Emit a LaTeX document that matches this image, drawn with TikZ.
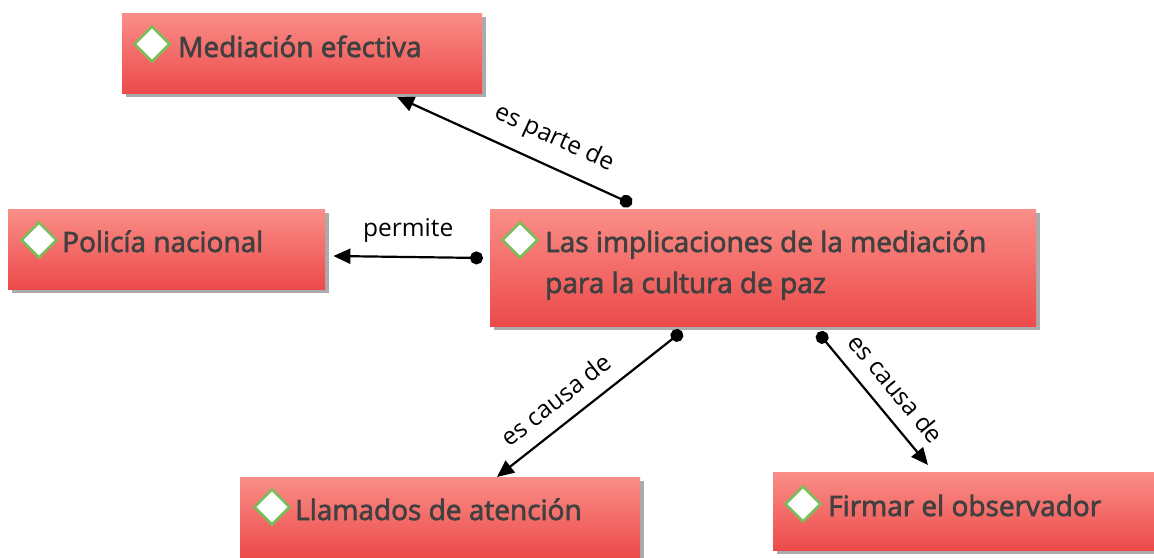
\documentclass[tikz,border=0pt]{standalone}
\usepackage{fontspec}
\setmainfont{Open Sans}
\newfontfamily\semib{Open Sans}[FakeBold=2.4]
\usetikzlibrary{shapes.geometric,shadows,arrows.meta,calc}
\definecolor{boxtop}{RGB}{250,142,136}
\definecolor{boxbot}{RGB}{236,74,74}
\definecolor{txtgray}{RGB}{64,64,64}
\definecolor{icongreen}{RGB}{122,190,90}
\tikzset{
  box/.style={rectangle, draw=none, inner sep=0pt, anchor=north west,
    top color=boxtop, bottom color=boxbot,
    drop shadow={shadow xshift=4pt, shadow yshift=-4pt, fill=black!60, opacity=0.55}},
  icon/.style={diamond, draw=icongreen, line width=2.5pt, fill=white, inner sep=0pt, minimum size=36pt},
  concept/.style={anchor=base west, inner sep=0pt, text=txtgray, align=left,
    font=\fontsize{28}{41}\selectfont\semib},
  link/.style={line width=2.2pt, black, {Circle[length=13pt]}-{Triangle[length=17pt,width=15pt]}},
  linklabel/.style={font=\fontsize{24.5}{28}\selectfont, text=black, inner sep=14pt}
}
\begin{document}
\begin{tikzpicture}[x=1pt,y=-1pt]
\useasboundingbox (0,0) rectangle (1154,557);
\fill[white] (0,0) rectangle (1154,557);
% boxes
\node[box, minimum width=360pt, minimum height=80pt] (b1) at (122,13) {};
\node[box, minimum width=317pt, minimum height=80pt] (b2) at (8,209) {};
\node[box, minimum width=546pt, minimum height=117pt] (b3) at (490,209) {};
\node[box, minimum width=400pt, minimum height=80pt] (b4) at (240,477) {};
\node[box, minimum width=381pt, minimum height=78pt] (b5) at (773,472) {};
% icons
\node[icon] (i1) at ($(b1.north west)+(30,31)$) {};
\node[icon] (i2) at ($(b2.north west)+(31,31)$) {};
\node[icon] (i3) at ($(b3.north west)+(30,31)$) {};
\node[icon] (i4) at ($(b4.north west)+(32,30)$) {};
\node[icon] (i5) at ($(b5.north west)+(30,32)$) {};
% texts
\node[concept] (t1) at ($(b1.north west)+(56,44)$) {Mediación efectiva};
\node[concept] (t2) at ($(b2.north west)+(54,43)$) {Policía nacional};
\node[concept] (t3) at ($(b3.north west)+(55,84)$) {Las implicaciones de la mediación\\para la cultura de paz};
\node[concept] (t4) at ($(b4.north west)+(55,43)$) {Llamados de atención};
\node[concept] (t5) at ($(b5.north west)+(55,44)$) {Firmar el observador};
% connector ends
\coordinate (d1) at ($(b3.north west)+(142,-5)$);
\coordinate (e1) at ($(b1.north west)+(275,84)$);
\coordinate (d2) at ($(b3.north west)+(-7,49)$);
\coordinate (e2) at ($(b2.north east)+(8,47)$);
\coordinate (d3) at ($(b3.south west)+(192,5)$);
\coordinate (e3) at ($(b4.north west)+(257,0)$);
\coordinate (d4) at ($(b3.south west)+(328,6)$);
\coordinate (e4) at ($(b5.north west)+(155,-7)$);
% connectors
\draw[link] (d1) -- node[linklabel, sloped, above, pos=0.38] {es parte de} (e1);
\draw[link] (d2) -- node[linklabel, above, pos=0.5] {permite} (e2);
\draw[link] (d3) -- node[linklabel, sloped, above, pos=0.6] {es causa de} (e3);
\draw[link] (d4) -- node[linklabel, sloped, above, pos=0.54] {es causa de} (e4);
\end{tikzpicture}
\end{document}
